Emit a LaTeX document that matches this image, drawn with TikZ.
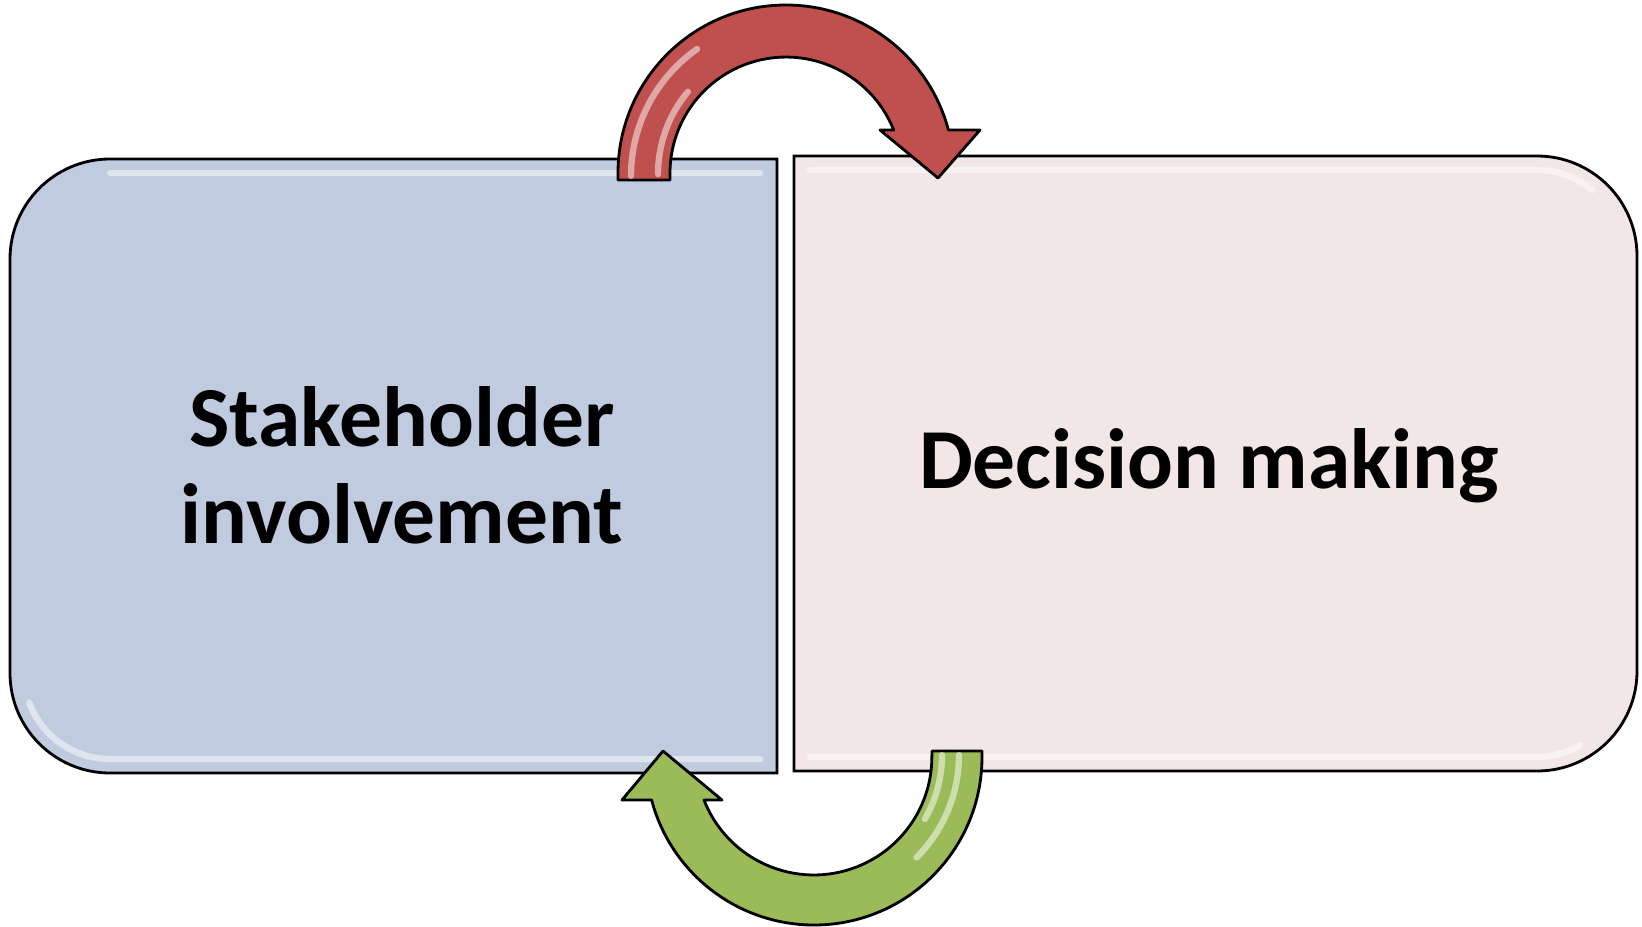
\documentclass[tikz,border=0pt]{standalone}
\usepackage{fontspec}
\setmainfont{Carlito}
\definecolor{boxblue}{RGB}{192,203,224}
\definecolor{boxpink}{RGB}{243,230,230}
\definecolor{arrowred}{RGB}{192,80,77}
\definecolor{arrowgreen}{RGB}{155,187,89}
\tikzset{
  boxshape/.style={draw=black, line width=0.8pt},
  arrowshape/.style={draw=black, line width=0.8pt, line join=round},
  gloss/.style={draw=white, opacity=0.5, line width=1.8pt, line cap=round},
  boxtext/.style={font=\fontsize{24.3pt}{27.5pt}\selectfont\bfseries, align=center, inner sep=0pt}
}
\begin{document}
\begin{tikzpicture}[x=0.01cm,y=0.01cm]
\useasboundingbox (0,0) rectangle (1642,926);
% left box
\draw[boxshape, fill=boxblue] (777,153) -- (110,153) arc[start angle=270,end angle=180,radius=100] -- (10,667) arc[start angle=180,end angle=90,radius=100] -- (777,767) -- cycle;
% right box
\draw[boxshape, fill=boxpink] (794,155) -- (794,770) -- (1537,770) arc[start angle=90,end angle=0,radius=100] -- (1637,255) arc[start angle=0,end angle=-90,radius=100] -- cycle;
% box highlights
\draw[gloss] (29.2,223.6) arc[start angle=200,end angle=270,radius=86] -- (760,167);
\draw[gloss] (110,753) -- (760,753);
\draw[gloss] (810,756) -- (1537,756) arc[start angle=90,end angle=50,radius=86];
\draw[gloss] (810,169) -- (1537,169) arc[start angle=-90,end angle=-60,radius=86];
% texts
\node[boxtext] (stake) at (402,461) {Stakeholder\\involvement};
\node[boxtext, anchor=base] (dec) at (1209,438) {Decision making};
% red arrow
\draw[arrowshape, fill=arrowred] (618,746) -- (618,753) arc[start angle=180,end angle=14.8,radius=168] -- (980,796) -- (938,748) -- (880,796) -- (893.7,796) arc[start angle=21.8,end angle=180,radius=116] -- (670,746) -- cycle;
\draw[gloss] (631,750) arc[start angle=180,end angle=125,radius=155];
\draw[gloss] (658,752) arc[start angle=180,end angle=140,radius=128];
% green arrow
\draw[arrowshape, fill=arrowgreen] (982,175) -- (982,169) arc[start angle=0,end angle=-165.2,radius=168] -- (622,126) -- (663,175) -- (722,126) -- (704,126) arc[start angle=-158.6,end angle=0,radius=118] -- (932,175) -- cycle;
\draw[gloss] (959,171) arc[start angle=0,end angle=-45,radius=145];
\draw[gloss] (942,171) arc[start angle=0,end angle=-30,radius=128];
\end{tikzpicture}
\end{document}
